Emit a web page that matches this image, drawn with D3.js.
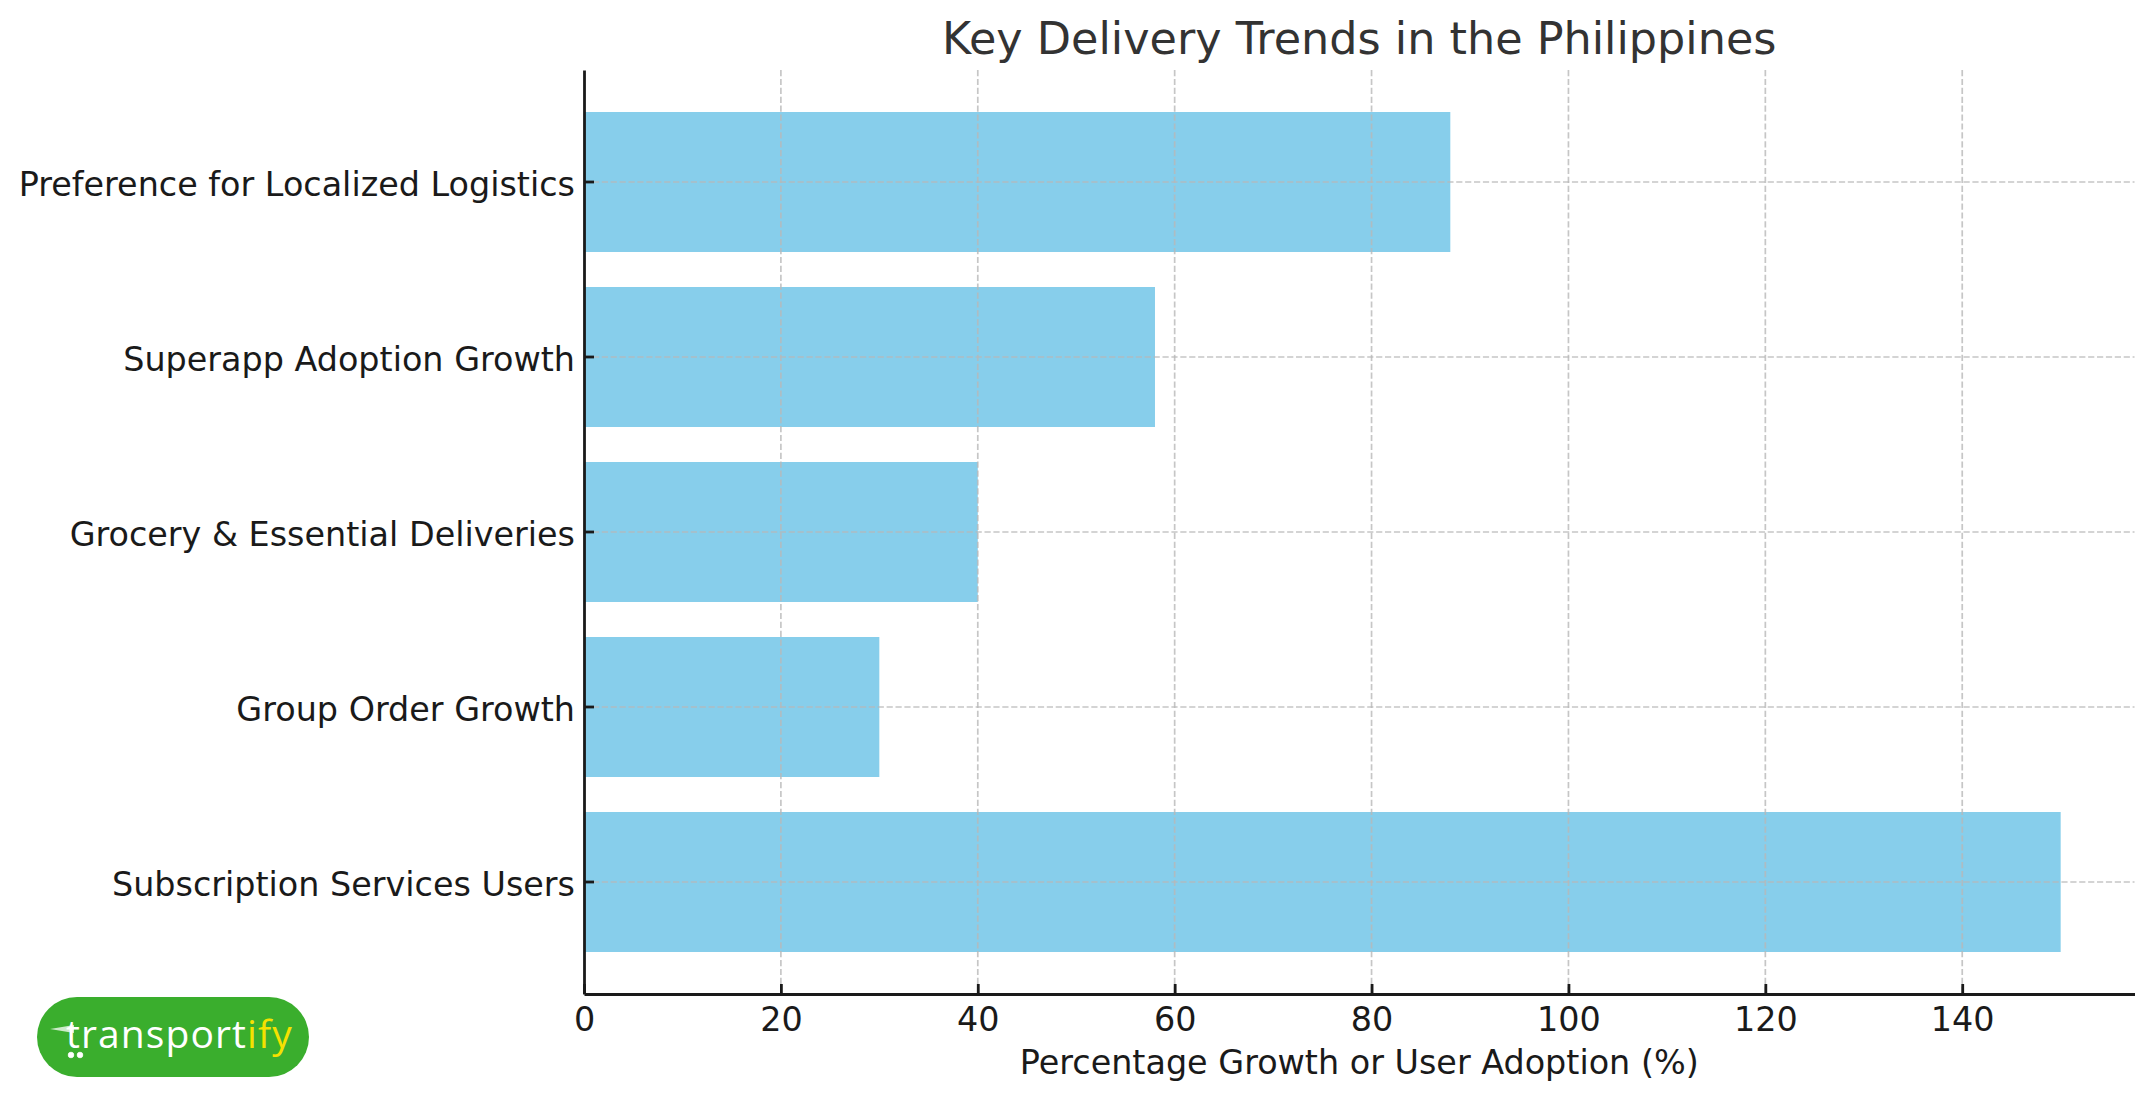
<!DOCTYPE html>
<html>
<head>
<meta charset="utf-8">
<script src="https://cdn.jsdelivr.net/npm/d3@7"></script>
<style>
  html, body { margin: 0; padding: 0; background: #fff; }
  svg { display: block; }
  text { font-family: "DejaVu Sans", sans-serif; }
</style>
</head>
<body>
<svg width="2155" height="1101"></svg>
<script>
var categories = [
  "Preference for Localized Logistics",
  "Superapp Adoption Growth",
  "Grocery & Essential Deliveries",
  "Group Order Growth",
  "Subscription Services Users"
];
var values = [88, 58, 40, 30, 150];
var xTicks = [0, 20, 40, 60, 80, 100, 120, 140];
var titleText = "Key Delivery Trends in the Philippines";
var xLabelText = "Percentage Growth or User Adoption (%)";

var svg = d3.select("svg");
var plotLeft = 584, plotRight = 2134.5, plotTop = 70, plotBottom = 994;

var xScale = d3.scaleLinear().domain([0, 157.5]).range([plotLeft, plotRight]);
var yScale = d3
  .scaleBand()
  .domain(categories)
  .range([plotTop, plotBottom])
  .paddingInner(0.2)
  .paddingOuter(0.24);

// bars go first, the grid sits on top of them
svg
  .append("g")
  .selectAll("rect")
  .data(values)
  .enter()
  .append("rect")
  .attr("x", xScale(0))
  .attr("y", (d, i) => yScale(categories[i]))
  .attr("width", (d) => xScale(d) - xScale(0))
  .attr("height", yScale.bandwidth())
  .style("fill", "#87ceeb");

var grid = svg
  .append("g")
  .style("stroke", "#b8b8b8")
  .style("stroke-opacity", 0.8)
  .style("stroke-width", 1.7)
  .style("stroke-dasharray", "6.2,2.7");

grid
  .selectAll("line.v")
  .data(xTicks.slice(1))
  .enter()
  .append("line")
  .attr("class", "v")
  .attr("x1", (d) => xScale(d))
  .attr("x2", (d) => xScale(d))
  .attr("y1", plotTop)
  .attr("y2", plotBottom);

grid
  .selectAll("line.h")
  .data(categories)
  .enter()
  .append("line")
  .attr("class", "h")
  .attr("x1", plotLeft)
  .attr("x2", plotRight)
  .attr("y1", (d) => yScale(d) + yScale.bandwidth() / 2)
  .attr("y2", (d) => yScale(d) + yScale.bandwidth() / 2);

var xAxis = svg
  .append("g")
  .attr("transform", "translate(0," + plotBottom + ")")
  .call(
    d3
      .axisBottom(xScale)
      .tickValues(xTicks)
      .tickSizeInner(-10)
      .tickSizeOuter(0)
      .tickPadding(13)
      .tickFormat(d3.format("d"))
  );

var yAxis = svg
  .append("g")
  .attr("transform", "translate(" + plotLeft + ",0)")
  .call(d3.axisLeft(yScale).tickSizeInner(-10).tickSizeOuter(0).tickPadding(9));

[xAxis, yAxis].forEach(function (axis) {
  axis.selectAll("path").style("stroke", "#1a1a1a").style("stroke-width", 2.8);
  axis.selectAll("line").style("stroke", "#1a1a1a").style("stroke-width", 2.8);
  axis
    .selectAll("text")
    .style("font-family", '"DejaVu Sans", sans-serif')
    .style("font-size", "33.4px")
    .style("fill", "#1a1a1a");
});

// matplotlib centres the labels a little lower than d3 does
yAxis.selectAll("text").attr("dy", "0.41em");

svg
  .append("text")
  .attr("x", (plotLeft + plotRight) / 2)
  .attr("y", 54)
  .attr("text-anchor", "middle")
  .style("font-size", "44.5px")
  .style("fill", "#333333")
  .text(titleText);

svg
  .append("text")
  .attr("x", (plotLeft + plotRight) / 2)
  .attr("y", 1074)
  .attr("text-anchor", "middle")
  .style("font-size", "33.4px")
  .style("fill", "#1a1a1a")
  .text(xLabelText);

// logo badge, bottom left
var logo = svg.append("g");
logo
  .append("rect")
  .attr("x", 37)
  .attr("y", 997)
  .attr("width", 272)
  .attr("height", 80)
  .attr("rx", 40)
  .style("fill", "#3aae2d");
var logoText = logo
  .append("text")
  .attr("x", 66)
  .attr("y", 1048)
  .style("font-family", '"Open Sans", sans-serif')
  .style("font-size", "39px")
  .style("letter-spacing", "1.1px")
  .style("fill", "#ffffff");
logoText.append("tspan").text("transport");
logoText.append("tspan").style("fill", "#f5e100").text("ify");
logo
  .selectAll("circle")
  .data([71, 80])
  .enter()
  .append("circle")
  .attr("cx", (d) => d)
  .attr("cy", 1055)
  .attr("r", 2.8)
  .style("fill", "#ffffff")
  .style("stroke", "#ffffff")
  .style("stroke-width", 0.8);
logo
  .append("path")
  .attr("d", "M50 1029 L74 1025 L74 1033 Z")
  .style("fill", "#ffffff")
  .style("fill-opacity", 0.75);
</script>
</body>
</html>
